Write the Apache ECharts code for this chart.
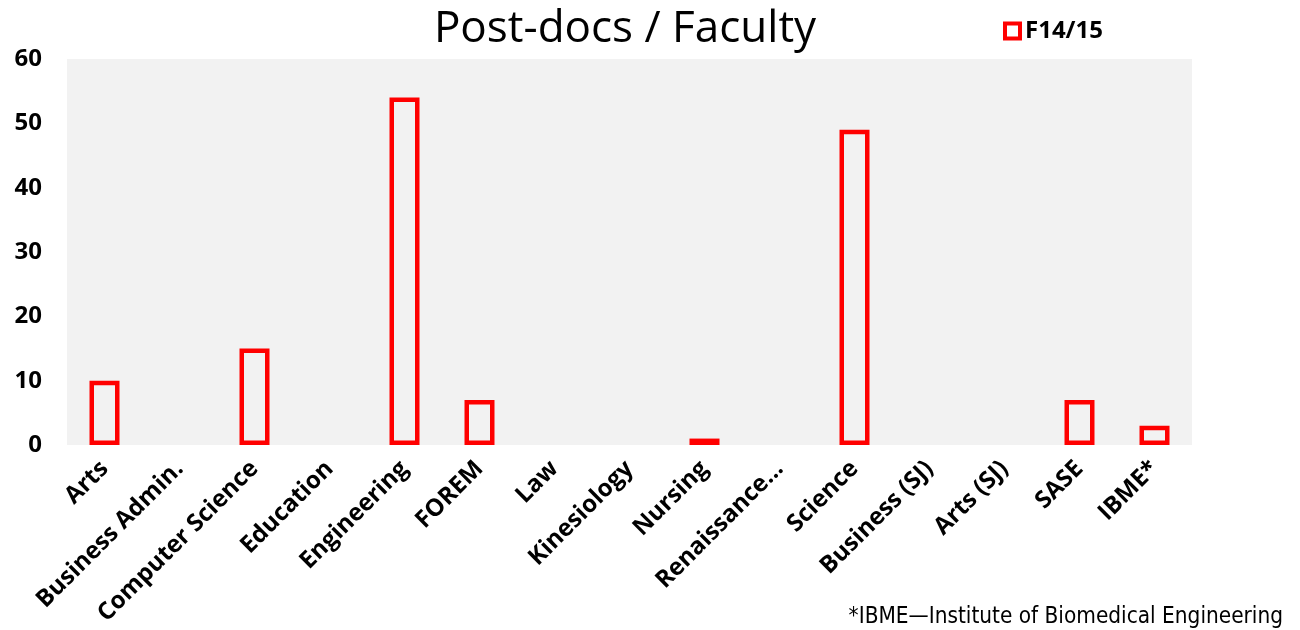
<!DOCTYPE html>
<html>
<head>
<meta charset="UTF-8">
<title>Post-docs / Faculty</title>
<style>
  * {margin: 0; padding: 0;}
  html, body {background: #fff;}
  #chart {width: 1300px; height: 630px;}
</style>
</head>
<body>
<div id="chart"></div>
<script src="https://cdn.jsdelivr.net/npm/echarts@6/dist/echarts.min.js"></script>
<script>
var categories = ['Arts', 'Business Admin.', 'Computer Science', 'Education', 'Engineering',
  'FOREM', 'Law', 'Kinesiology', 'Nursing', 'Renaissance...', 'Science',
  'Business (SJ)', 'Arts (SJ)', 'SASE', 'IBME*'];
var postdocs = [10, 0, 15, 0, 54, 7, 0, 0, 1, 0, 49, 0, 0, 7, 3];
var yTicks = [0, 10, 20, 30, 40, 50, 60];
var seriesName = 'F14/15';
var footnote = '*IBME\u2014Institute of Biomedical Engineering';

var chart = echarts.init(document.getElementById('chart'));
var font = '"Open Sans", "Liberation Sans", sans-serif';

var option = {
  animation: false,
  title: {
    text: 'Post-docs / Faculty',
    left: 620, top: 2, textAlign: 'center',
    textStyle: {fontFamily: font, fontSize: 44, fontWeight: 'normal', color: '#000'}
  },
  legend: {
    data: [seriesName],
    left: 998, top: 14,
    itemWidth: 15, itemHeight: 15, itemGap: 11,
    icon: 'rect',
    itemStyle: {color: '#fff', borderColor: '#ff0000', borderWidth: 4},
    textStyle: {fontFamily: font, fontSize: 24, fontWeight: 'bold', color: '#000'}
  },
  graphic: [{
    type: 'text', right: 17, top: 606,
    style: {text: footnote, fontFamily: '"Liberation Sans Narrow", "DejaVu Sans Condensed", sans-serif',
      fontSize: 22.4, fill: '#000'}
  }],
  grid: {
    left: 67, right: 108, top: 59, bottom: 185,
    show: true, backgroundColor: '#f2f2f2', borderWidth: 0
  },
  xAxis: {
    type: 'category',
    data: categories,
    axisLine: {show: false},
    axisTick: {show: false},
    axisLabel: {
      rotate: 45, interval: 0, margin: 20,
      fontFamily: font, fontSize: 24, fontWeight: 'bold', color: '#000'
    }
  },
  yAxis: {
    type: 'value',
    min: yTicks[0], max: yTicks[yTicks.length - 1], interval: 10,
    splitLine: {show: false},
    axisLine: {show: false},
    axisTick: {show: false},
    axisLabel: {margin: 25, fontFamily: font, fontSize: 24, fontWeight: 'bold', color: '#000'}
  },
  series: [{
    name: seriesName,
    type: 'bar',
    // empty categories draw no bar at all
    data: postdocs.map(function (v) { return v === 0 ? '-' : v; }),
    barWidth: 30,
    itemStyle: {color: 'rgba(0,0,0,0)', borderColor: '#ff0000', borderWidth: 4.5}
  }]
};

chart.setOption(option);
</script>
</body>
</html>
